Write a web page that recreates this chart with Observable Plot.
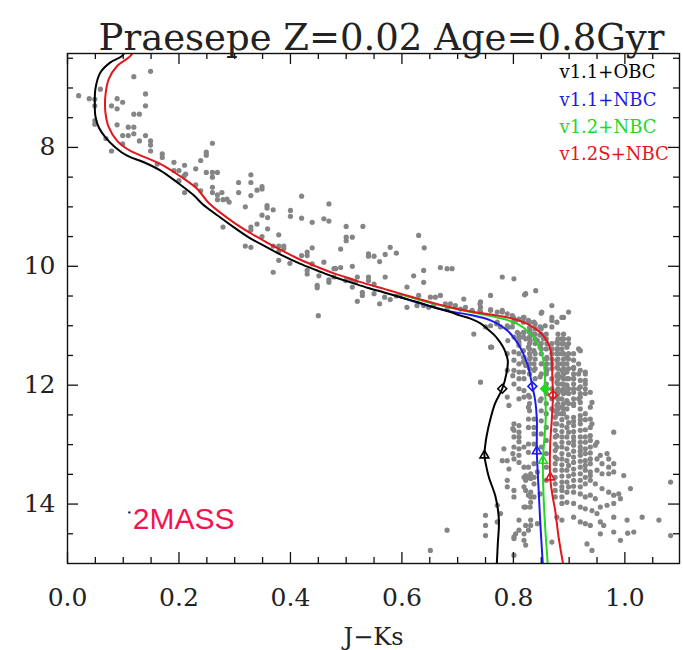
<!DOCTYPE html>
<html><head><meta charset="utf-8">
<script src="https://cdn.jsdelivr.net/npm/d3@7"></script>
<script src="https://cdn.jsdelivr.net/npm/@observablehq/plot@0.6"></script>
<style>body{margin:0;background:#fff}#chart svg{display:block}</style>
</head><body><div id="chart"></div>
<script>
// ---------- DATA ----------
const title = "Praesepe Z=0.02 Age=0.8Gyr";
const xTitle = "J\u2212Ks";
const xTickLabels = [0, 0.2, 0.4, 0.6, 0.8, 1.0];
const xMinorTicks = [0.05,0.1,0.15,0.25,0.3,0.35,0.45,0.5,0.55,0.65,0.7,0.75,0.85,0.9,0.95,1.05];
const yTickLabels = [8, 10, 12, 14];
const yMinorTicks = [6.5,7,7.5,8.5,9,9.5,10.5,11,11.5,12.5,13,13.5,14.5];

const modelNames  = ["v1.1+OBC", "v1.1+NBC", "v1.2+NBC", "v1.2S+NBC"];
const modelColors = ["#000000", "#1c1ce6", "#22d822", "#e3161c"];

// isochrones [J-Ks, J]
const isoV11OBC = [[0.108,6.30],[0.098,6.46],[0.077,6.57],[0.059,6.74],[0.050,7.02],[0.049,7.24],[0.050,7.47],[0.056,7.66],[0.068,7.83],[0.086,8.00],[0.107,8.14],[0.137,8.25],[0.167,8.39],[0.197,8.59],[0.227,8.81],[0.242,8.95],[0.270,9.15],[0.298,9.34],[0.328,9.53],[0.358,9.68],[0.388,9.83],[0.418,9.96],[0.448,10.07],[0.478,10.18],[0.508,10.27],[0.538,10.36],[0.568,10.44],[0.597,10.52],[0.627,10.60],[0.657,10.69],[0.687,10.77],[0.705,10.83],[0.723,10.88],[0.741,10.96],[0.753,11.05],[0.765,11.15],[0.774,11.25],[0.781,11.35],[0.786,11.45],[0.790,11.59],[0.788,11.78],[0.780,12.06],[0.767,12.31],[0.759,12.56],[0.752,12.85],[0.749,13.05],[0.748,13.18],[0.751,13.35],[0.756,13.55],[0.768,13.88],[0.774,14.27],[0.772,14.67],[0.770,15.05]];
const isoV11NBC = [[0.597,10.52],[0.657,10.69],[0.687,10.76],[0.723,10.82],[0.759,10.91],[0.789,11.08],[0.810,11.33],[0.825,11.64],[0.832,11.92],[0.834,12.02],[0.839,12.25],[0.842,12.56],[0.842,13.11],[0.845,13.71],[0.848,14.27],[0.853,15.05]];
const isoV12NBC = [[0.597,10.47],[0.657,10.63],[0.723,10.77],[0.771,10.86],[0.807,10.97],[0.836,11.19],[0.851,11.47],[0.856,11.75],[0.857,12.06],[0.858,12.56],[0.853,13.27],[0.854,13.83],[0.857,14.39],[0.862,15.05]];
const isoV12SNBC = [[0.122,6.30],[0.113,6.46],[0.089,6.63],[0.074,6.85],[0.068,7.13],[0.068,7.41],[0.074,7.66],[0.089,7.89],[0.113,8.06],[0.143,8.18],[0.173,8.31],[0.203,8.49],[0.233,8.70],[0.253,8.93],[0.298,9.26],[0.328,9.44],[0.358,9.60],[0.388,9.75],[0.418,9.89],[0.448,10.01],[0.478,10.12],[0.508,10.21],[0.538,10.30],[0.568,10.38],[0.597,10.46],[0.627,10.54],[0.657,10.62],[0.687,10.69],[0.723,10.76],[0.759,10.81],[0.790,10.86],[0.818,10.94],[0.838,11.04],[0.851,11.14],[0.861,11.27],[0.867,11.42],[0.869,11.58],[0.870,11.90],[0.871,12.17],[0.869,12.56],[0.866,13.00],[0.866,13.55],[0.870,13.85],[0.875,14.11],[0.881,14.55],[0.890,15.05]];

// markers on each isochrone
const diamondX  = [0.780, 0.834, 0.857, 0.871];
const diamondY  = [12.06, 12.02, 12.06, 12.17];
const triangleX = [0.748, 0.842, 0.853, 0.866];
const triangleY = [13.18, 13.11, 13.27, 13.55];

// 2MASS stars [J-Ks, J]
const stars = [
[0.149,6.72],[0.119,6.81],[0.020,7.13],[0.039,7.18],[0.049,7.19],[0.059,7.02],[0.049,7.30],[0.089,7.18],[0.099,7.24],[0.079,7.30],[0.089,7.35],[0.140,7.10],[0.140,7.30],[0.119,7.44],[0.129,7.44],[0.049,7.55],[0.049,7.61],[0.089,7.62],[0.109,7.66],[0.119,7.66],[0.099,7.80],[0.109,7.80],[0.119,7.77],[0.140,7.80],[0.069,7.85],[0.129,7.89],[0.149,7.89],[0.149,7.96],[0.099,7.94],[0.149,8.06],[0.079,8.06],[0.170,8.11],[0.170,8.17],[0.161,8.28],[0.191,8.25],[0.210,8.30],[0.191,8.39],[0.200,8.39],[0.230,8.36],[0.239,8.22],[0.249,8.08],[0.249,8.13],[0.260,7.93],[0.249,8.42],[0.260,8.42],[0.269,8.42],[0.260,8.50],[0.209,8.48],[0.200,8.56],[0.212,8.45],[0.230,8.63],[0.239,8.73],[0.210,8.76],[0.260,8.67],[0.260,8.76],[0.277,8.76],[0.269,8.80],[0.307,8.59],[0.307,8.76],[0.269,8.88],[0.279,8.88],[0.286,8.87],[0.290,8.92],
[0.329,8.46],[0.329,8.59],[0.340,8.72],[0.349,8.66],[0.349,8.70],[0.329,8.81],[0.319,9.00],[0.420,8.82],[0.469,8.95],[0.400,9.06],[0.400,9.16],[0.358,8.98],[0.358,9.02],[0.369,9.05],[0.359,9.18],[0.349,9.14],[0.420,9.19],[0.439,9.26],[0.460,9.20],[0.469,9.24],[0.340,9.29],[0.329,9.34],[0.329,9.39],[0.279,9.34],[0.349,9.50],[0.359,9.37],[0.379,9.47],[0.319,9.66],[0.329,9.68],[0.369,9.66],[0.379,9.66],[0.388,9.66],[0.388,9.70],[0.379,9.75],[0.379,9.90],[0.369,10.10],[0.399,9.95],[0.420,9.82],[0.430,9.76],[0.439,9.69],[0.430,9.82],[0.460,9.93],[0.439,9.96],[0.451,10.16],[0.448,10.32],[0.448,10.36],[0.469,10.23],[0.469,10.27],[0.481,10.04],[0.490,9.71],[0.500,9.51],[0.500,9.57],[0.500,9.33],[0.511,9.51],[0.530,9.33],[0.490,10.02],[0.511,10.00],[0.520,10.18],[0.511,10.35],[0.529,10.44],[0.540,9.79],[0.540,9.83],[0.550,9.83],[0.560,9.92],[0.570,9.80],[0.579,9.68],[0.590,9.78],[0.570,10.18],[0.540,10.18],[0.540,10.24],[0.630,9.48],[0.640,9.69],
[0.450,10.83],[0.520,10.59],[0.560,10.63],[0.529,10.49],[0.550,10.46],[0.569,10.52],[0.579,10.56],[0.590,10.50],[0.550,10.30],[0.478,10.18],[0.499,10.24],[0.508,10.24],[0.517,10.26],[0.478,10.04],[0.430,10.07],[0.430,10.13],
[0.669,10.02],[0.681,10.04],[0.690,10.04],[0.621,10.16],[0.639,10.07],[0.639,10.27],[0.780,10.18],[0.801,10.21],[0.609,10.35],[0.822,10.46],[0.840,10.41],[0.597,10.49],[0.630,10.49],[0.651,10.52],[0.660,10.52],[0.669,10.49],[0.711,10.55],[0.759,10.49],[0.609,10.69],[0.627,10.66],[0.639,10.66],[0.648,10.69],[0.657,10.66],[0.678,10.63],[0.687,10.63],[0.681,10.72],[0.696,10.66],[0.705,10.72],[0.714,10.69],[0.726,10.74],[0.741,10.60],[0.741,10.69],[0.741,10.77],[0.759,10.74],[0.771,10.77],[0.780,10.77],[0.789,10.80],[0.798,10.83],[0.804,10.91],[0.819,10.86],[0.827,10.91],[0.837,10.94],[0.851,10.77],[0.869,10.66],[0.869,10.86],[0.890,10.86],[0.899,10.77],
[0.750,11.02],[0.759,11.00],[0.771,10.94],[0.777,11.02],[0.789,11.00],[0.798,11.02],[0.807,11.11],[0.819,11.11],[0.830,11.08],[0.837,11.14],[0.848,11.02],[0.857,11.00],[0.869,10.91],[0.869,11.02],[0.878,10.94],[0.801,11.19],[0.810,11.22],[0.822,11.22],[0.830,11.25],[0.843,11.25],[0.848,11.16],[0.854,11.22],[0.860,11.30],[0.878,11.28],[0.887,11.22],[0.887,11.30],[0.759,11.36],[0.810,11.33],[0.827,11.36],[0.837,11.42],[0.848,11.36],[0.878,11.39],[0.887,11.39],[0.896,11.36],[0.920,11.42],[0.789,11.47],[0.801,11.44],[0.810,11.47],[0.819,11.53],[0.830,11.53],[0.860,11.53],[0.878,11.47],[0.887,11.47],[0.896,11.53],[0.908,11.58],[0.801,11.58],[0.810,11.64],[0.822,11.67],[0.837,11.64],[0.860,11.64],[0.878,11.58],[0.887,11.64],[0.896,11.64],[0.908,11.70],[0.920,11.75],[0.929,11.78],[0.789,11.75],[0.801,11.75],[0.810,11.78],[0.837,11.75],[0.860,11.75],[0.878,11.70],[0.887,11.75],[0.896,11.78],[0.908,11.81],
[0.741,11.95],[0.810,11.89],[0.819,11.89],[0.848,11.86],[0.878,11.84],[0.887,11.86],[0.896,11.89],[0.908,11.89],[0.920,11.92],[0.929,11.92],[0.801,11.98],[0.810,12.06],[0.819,12.09],[0.878,11.95],[0.887,11.98],[0.896,12.00],[0.908,11.98],[0.920,12.03],[0.929,12.06],[0.819,12.20],[0.827,12.17],[0.878,12.09],[0.887,12.09],[0.896,12.12],[0.908,12.12],[0.920,12.14],[0.938,12.12],[0.789,12.20],[0.810,12.23],[0.848,12.26],[0.878,12.20],[0.887,12.23],[0.896,12.26],[0.908,12.23],[0.920,12.20],[0.920,12.29],[0.941,12.29],[0.792,12.34],[0.827,12.37],[0.878,12.34],[0.887,12.37],[0.896,12.40],[0.908,12.34],[0.920,12.40],[0.938,12.37],
[0.801,12.65],[0.810,12.68],[0.801,12.76],[0.810,12.79],[0.827,12.57],[0.837,12.57],[0.878,12.48],[0.887,12.48],[0.896,12.54],[0.908,12.54],[0.920,12.51],[0.929,12.48],[0.938,12.57],[0.941,12.65],[0.801,12.87],[0.810,12.87],[0.827,12.71],[0.837,12.71],[0.837,12.82],[0.878,12.65],[0.887,12.68],[0.896,12.71],[0.908,12.68],[0.920,12.65],[0.938,12.71],[0.980,12.79],[0.801,13.04],[0.810,13.07],[0.783,13.07],[0.819,13.04],[0.827,12.99],[0.837,12.99],[0.878,12.85],[0.887,12.87],[0.896,12.87],[0.908,12.87],[0.920,12.87],[0.929,12.87],[0.938,12.85],[0.950,12.96],
[0.780,13.27],[0.789,13.27],[0.801,13.24],[0.810,13.18],[0.827,13.13],[0.878,13.04],[0.887,13.04],[0.896,13.07],[0.908,13.01],[0.920,13.04],[0.929,13.07],[0.938,13.04],[0.947,13.01],[0.956,13.18],[0.968,13.15],[0.971,13.24],[0.792,13.41],[0.819,13.38],[0.827,13.38],[0.837,13.32],[0.878,13.24],[0.887,13.24],[0.896,13.27],[0.908,13.21],[0.920,13.18],[0.929,13.27],[0.938,13.24],[0.950,13.24],[0.959,13.32],[0.971,13.38],[0.980,13.32],
[0.789,13.60],[0.819,13.55],[0.827,13.55],[0.837,13.55],[0.843,13.46],[0.887,13.43],[0.896,13.43],[0.908,13.41],[0.920,13.38],[0.929,13.43],[0.938,13.46],[0.950,13.43],[0.959,13.49],[0.971,13.49],[0.980,13.46],[0.998,13.52],[0.789,13.71],[0.801,13.77],[0.819,13.71],[0.837,13.66],[0.887,13.63],[0.896,13.63],[0.908,13.60],[0.920,13.60],[0.929,13.66],[0.938,13.60],[0.947,13.66],[0.959,13.74],[0.971,13.80],[0.980,13.85],[0.989,13.83],[1.010,13.74],[1.082,13.63],
[0.771,14.02],[0.801,13.88],[0.827,13.85],[0.837,13.88],[0.848,13.83],[0.887,13.77],[0.896,13.80],[0.908,13.80],[0.920,13.83],[0.929,13.88],[0.938,13.85],[0.947,13.91],[0.956,14.05],[0.968,14.02],[0.980,13.99],[0.992,13.91],[0.750,14.19],[0.777,14.16],[0.819,14.05],[0.830,14.05],[0.887,13.99],[0.896,13.97],[0.908,13.99],[0.920,14.05],[0.929,14.08],[0.941,14.11],[0.950,14.16],[0.956,14.30],[0.962,14.36],[0.980,14.22],[1.004,14.27],[1.031,14.22],[1.061,14.27],
[0.750,14.36],[0.771,14.30],[0.681,14.44],[0.804,14.50],[0.819,14.50],[0.827,14.44],[0.843,14.33],[0.878,14.22],[0.887,14.27],[0.908,14.22],[0.920,14.30],[0.929,14.33],[0.938,14.36],[0.956,14.50],[0.980,14.47],[0.992,14.61],[1.016,14.47],[1.005,14.49],[1.082,14.53],[0.750,14.53],[0.801,14.55],[0.819,14.61],[0.822,14.69],[0.869,14.64],[0.932,14.67],[0.941,14.78],[0.651,14.78],[0.801,14.86],
[0.839,10.97],[0.839,11.05],[0.839,11.14],[0.839,11.22],[0.839,11.30],[0.839,11.47],[0.839,11.56],[0.839,11.72],[0.839,11.89],
[0.850,11.05],[0.850,11.14],[0.850,11.30],[0.850,11.39],[0.850,11.47],[0.850,11.64],[0.850,11.81],[0.850,12.23],
[0.859,11.14],[0.859,11.22],[0.859,11.39],[0.859,11.56],[0.859,11.72],[0.859,11.81],[0.859,11.98],[0.859,12.14],[0.859,12.31],
[0.869,11.30],[0.869,11.39],[0.869,11.47],[0.869,11.56],[0.869,11.64],[0.869,11.72],[0.869,11.89],[0.869,12.06],[0.869,12.23],[0.869,12.40],
[0.880,11.14],[0.880,11.22],[0.880,11.30],[0.880,11.39],[0.880,11.47],[0.880,11.56],[0.880,11.64],[0.880,11.72],[0.880,11.81],[0.880,11.89],[0.880,11.98],[0.880,12.06],[0.880,12.14],[0.880,12.23],[0.880,12.31],[0.880,12.40],[0.880,12.48],
[0.890,11.14],[0.890,11.22],[0.890,11.30],[0.890,11.47],[0.890,11.56],[0.890,11.64],[0.890,11.72],[0.890,11.81],[0.890,11.89],[0.890,11.98],[0.890,12.06],[0.890,12.14],[0.890,12.31],[0.890,12.40],[0.890,12.48],
[0.899,11.22],[0.899,11.30],[0.899,11.47],[0.899,11.56],[0.899,11.72],[0.899,11.89],[0.899,12.06],[0.899,12.14],[0.899,12.31],
[0.908,11.47],[0.908,11.72],[0.908,11.89],[0.908,12.06],[0.908,12.31],[0.917,11.39],[0.917,11.64],[0.917,11.81],[0.917,12.06],[0.917,12.23],[0.929,11.81],[0.929,11.98],[0.929,12.14],
[0.729,11.14],[0.761,11.36],[0.770,10.97],[0.790,11.03],[0.790,11.25],[0.799,11.84],[0.810,11.14],[0.810,11.19],[0.810,11.28],[0.818,11.11],[0.818,11.19],[0.818,11.42],[0.818,11.53],[0.818,11.61],[0.818,11.78],[0.829,10.94],[0.829,11.03],[0.829,11.11],[0.829,11.19],[0.829,11.30],[0.829,11.39],[0.829,11.47],[0.829,11.56],[0.829,11.64],[0.829,11.72],[0.829,11.81],[0.829,12.20],[0.829,12.31],[0.829,12.43],[0.820,10.48],[0.740,10.63],[0.740,10.74],[0.759,10.73],[0.780,10.74],[0.850,10.79],[0.887,10.86],[0.800,10.86],[0.800,10.94],[0.810,10.89],[0.818,10.86],[0.818,10.94],
[0.875,12.43],[0.875,12.54],[0.875,12.65],[0.875,12.76],[0.875,12.87],[0.875,12.99],[0.875,13.10],[0.875,13.21],[0.875,13.32],[0.875,13.43],[0.875,13.55],[0.875,13.66],[0.875,13.77],[0.875,13.88],
[0.887,12.58],[0.887,12.78],[0.887,12.96],[0.887,13.15],[0.887,13.34],[0.887,13.53],[0.887,13.71],[0.887,13.88],
[0.899,12.63],[0.899,12.79],[0.899,12.97],[0.899,13.17],[0.899,13.35],[0.899,13.53],[0.899,13.71],
[0.908,12.61],[0.908,12.78],[0.908,12.94],[0.908,13.11],[0.908,13.30],[0.908,13.50],[0.908,13.70],
[0.920,12.58],[0.920,12.76],[0.920,12.96],[0.920,13.11],[0.920,13.28],[0.920,13.49],[0.920,13.71],
[0.929,12.58],[0.929,12.75],[0.929,12.96],[0.929,13.15],[0.929,13.35],[0.929,13.55],[0.938,12.93],[0.938,13.14],[0.938,13.32],[0.938,13.52],
[0.850,12.43],[0.850,12.60],[0.850,12.82],[0.850,13.04],[0.859,12.48],[0.859,12.71],[0.859,12.93],[0.859,13.15],[0.859,13.38],[0.859,13.60],
[0.822,13.52],[0.822,13.60],[0.822,13.77],[0.831,13.49],[0.831,13.57],[0.831,13.80],[0.831,13.88],[0.831,13.97],[0.822,14.05],[0.831,14.27],[0.831,14.36],[0.822,14.36],[0.810,14.27],[0.810,14.44],[0.801,14.58],
[0.799,12.73],[0.810,12.95],[0.799,13.15],[0.810,13.30]
];

const tag2MASS = [{label: "2MASS", x: 0.117, y: 14.25}];
const tagDot = [{x: 0.111, y: 14.14}];

// ---------- LAYOUT ----------
const W = 683, H = 650, mL = 67, mR = 4, mT = 53, mB = 87;
const fw = W - mL - mR, fh = H - mT - mB;
const major = 11, minor = 6;

const lines = [isoV11OBC, isoV11NBC, isoV12NBC, isoV12SNBC];
const drawOrder = [2, 1, 3, 0];
const markers = modelNames.map((n, i) => ({i, dx: diamondX[i], dy: diamondY[i], tx: triangleX[i], ty: triangleY[i]}));

const marks = [
  Plot.dot(stars, {x: d => d[0], y: d => d[1], r: 2.6, fill: "#858585", clip: true}),
  ...drawOrder.map(i => Plot.line(lines[i], {x: d => d[0], y: d => d[1], stroke: modelColors[i], strokeWidth: 2, curve: "catmull-rom", clip: true})),
  Plot.dot(markers, {x: "dx", y: "dy", symbol: "diamond2", r: 4, stroke: d => modelColors[d.i], fill: d => d.i === 2 ? modelColors[2] : "none", strokeWidth: 1.6}),
  Plot.dot(markers, {x: "tx", y: "ty", symbol: "triangle2", r: 4.2, stroke: d => modelColors[d.i], strokeWidth: 1.6}),
  Plot.frame({stroke: "#111", strokeWidth: 1.4}),
  Plot.ruleX(xTickLabels, {x: d => d, insetTop: fh - major, stroke: "#111", strokeWidth: 1.3}),
  Plot.ruleX(xTickLabels, {x: d => d, insetBottom: fh - major, stroke: "#111", strokeWidth: 1.3}),
  Plot.ruleX(xMinorTicks, {x: d => d, insetTop: fh - minor, stroke: "#111", strokeWidth: 1.3}),
  Plot.ruleX(xMinorTicks, {x: d => d, insetBottom: fh - minor, stroke: "#111", strokeWidth: 1.3}),
  Plot.ruleY(yTickLabels, {y: d => d, insetRight: fw - major, stroke: "#111", strokeWidth: 1.3}),
  Plot.ruleY(yTickLabels, {y: d => d, insetLeft: fw - major, stroke: "#111", strokeWidth: 1.3}),
  Plot.ruleY(yMinorTicks, {y: d => d, insetRight: fw - minor, stroke: "#111", strokeWidth: 1.3}),
  Plot.ruleY(yMinorTicks, {y: d => d, insetLeft: fw - minor, stroke: "#111", strokeWidth: 1.3}),
  Plot.axisX({ticks: xTickLabels, tickSize: 0, tickPadding: 25, fontSize: 25, tickFormat: d => d.toFixed(1), label: null, fill: "#222"}),
  Plot.axisY({ticks: yTickLabels, tickSize: 0, tickPadding: 12, fontSize: 25, label: null, fill: "#222"}),
  Plot.text([title], {text: d => d, frameAnchor: "top", dx: 8, dy: -30, fontSize: 37, fill: "#222"}),
  Plot.text([xTitle], {text: d => d, frameAnchor: "bottom", lineAnchor: "top", dy: 64, fontSize: 24, fill: "#222"}),
  ...modelNames.map((n, i) => Plot.text([n], {text: d => d, frameAnchor: "top-right", textAnchor: "start", lineAnchor: "top", dx: -120, dy: 12 + 27.3 * i, fontSize: 18, fill: modelColors[i]})),
  Plot.text(tag2MASS, {x: "x", y: "y", text: "label", textAnchor: "start", fontSize: 30, fontFamily: "Liberation Sans", fill: "#f5134f"}),
  Plot.dot(tagDot, {x: "x", y: "y", r: 1.2, fill: "#1a1a80"})
];

const chart = Plot.plot({
  width: W, height: H,
  marginLeft: mL, marginRight: mR, marginTop: mT, marginBottom: mB,
  style: {fontFamily: "DejaVu Serif", background: "white", color: "#222", overflow: "visible"},
  x: {domain: [0, 1.098]},
  y: {domain: [6.42, 15.0], reverse: true},
  marks
});
document.getElementById("chart").append(chart);
</script>
</body></html>
